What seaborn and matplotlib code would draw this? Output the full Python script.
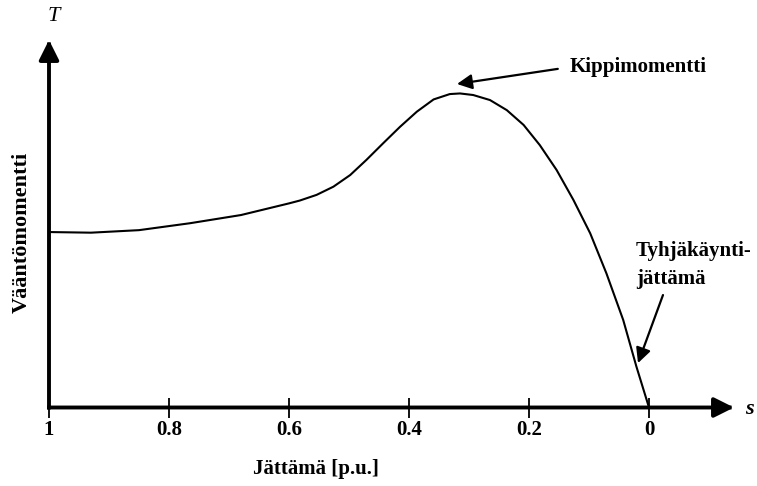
import matplotlib
matplotlib.use("Agg")
import matplotlib.pyplot as plt
import seaborn as sns
import pandas as pd

# Torque-slip characteristic of an induction machine (torque normalised to breakdown torque)
slip = [1.0, 0.93, 0.85, 0.765, 0.68, 0.60, 0.582, 0.554, 0.526, 0.498, 0.471,
        0.443, 0.415, 0.387, 0.359, 0.332, 0.315, 0.293, 0.265, 0.237, 0.209,
        0.182, 0.154, 0.126, 0.098, 0.071, 0.043, 0.021, 0.0]
torque = [0.557, 0.555, 0.563, 0.585, 0.611, 0.648, 0.657, 0.675, 0.701, 0.738, 0.786,
          0.839, 0.891, 0.939, 0.978, 0.995, 0.997, 0.992, 0.976, 0.944, 0.897,
          0.833, 0.754, 0.659, 0.553, 0.426, 0.278, 0.130, 0.0]

tick_values = [1.0, 0.8, 0.6, 0.4, 0.2, 0.0]
tick_labels = ["1", "0.8", "0.6", "0.4", "0.2", "0"]

sns.set_theme(style="white", rc={
    "text.color": "black",
    "axes.labelcolor": "black",
    "xtick.color": "black",
    "ytick.color": "black",
    "figure.facecolor": "white",
    "axes.facecolor": "white",
})
plt.rcParams["font.family"] = ["Liberation Serif", "DejaVu Serif"]
plt.rcParams["font.weight"] = "bold"

W, H = 757, 486
fig = plt.figure(figsize=(W / 100, H / 100), dpi=100)
ax = fig.add_axes([49 / W, 78.5 / H, 685 / W, 367.5 / H])

df = pd.DataFrame({"s": slip, "T": torque})
sns.lineplot(data=df, x="s", y="T", ax=ax, color="black", linewidth=1.5,
             sort=False, estimator=None)
for ln in ax.lines:
    ln.set_solid_joinstyle("round")

ax.set_xlim(1.0, 1.0 - 685 / 600)
ax.set_ylim(0, 367.5 / 315)
for sp in ax.spines.values():
    sp.set_visible(False)

# Axis lines with arrow heads
axis_arrow = dict(arrowstyle="-|>,head_length=12,head_width=6", mutation_scale=1,
                  lw=2.8, color="black", shrinkA=0, shrinkB=0, capstyle="projecting")
ax.annotate("", xy=(1, 0), xytext=(0, 0), xycoords="axes fraction",
            textcoords="axes fraction", arrowprops=axis_arrow, annotation_clip=False)
ax.annotate("", xy=(0, 1), xytext=(0, 0), xycoords="axes fraction",
            textcoords="axes fraction", arrowprops=axis_arrow, annotation_clip=False)

ax.set_xticks(tick_values, tick_labels)
ax.set_yticks([])
ax.tick_params(axis="x", bottom=True, direction="inout", length=14, width=1.3,
               pad=2, labelsize=15)
for lbl in ax.get_xticklabels():
    lbl.set_fontweight("bold")

ax.set_xlabel("Jättämä [p.u.]", fontsize=15, fontweight="bold", va="center")
ax.xaxis.set_label_coords((316 - 49) / 685, (407.5 - 469) / 367.5)
ax.set_ylabel("Vääntömomentti", fontsize=16, fontweight="bold", va="center")
ax.yaxis.set_label_coords((22 - 49) / 685, (407.5 - 232) / 367.5)

# Axis symbols
ax.text(0.992, 1.24, "T", fontsize=16, fontstyle="italic", fontweight="normal",
        ha="center", va="center")
ax.text(-0.1667, -0.005, "s", fontsize=16, fontstyle="italic", fontweight="bold",
        ha="center", va="center")

# Callouts
note_arrow = dict(arrowstyle="-|>,head_length=9,head_width=4.5", mutation_scale=1,
                  lw=1.6, color="black", shrinkA=0, shrinkB=0)
ax.annotate("", xy=(0.32, 1.027), xytext=(0.152, 1.075), arrowprops=note_arrow,
            annotation_clip=False)
ax.text(0.132, 1.065, "Kippimomentti", fontsize=15, fontweight="bold",
        ha="left", va="baseline")

ax.annotate("", xy=(0.0183, 0.141), xytext=(-0.0233, 0.357), arrowprops=note_arrow,
            annotation_clip=False)
ax.text(0.0217, (407.5 - 256) / 315, "Tyhjäkäynti-", fontsize=15, fontweight="bold",
        ha="left", va="baseline")
ax.text(0.0217, (407.5 - 284) / 315, "jättämä", fontsize=15, fontweight="bold",
        ha="left", va="baseline")

fig.savefig("out.png", dpi=100, facecolor="white")
